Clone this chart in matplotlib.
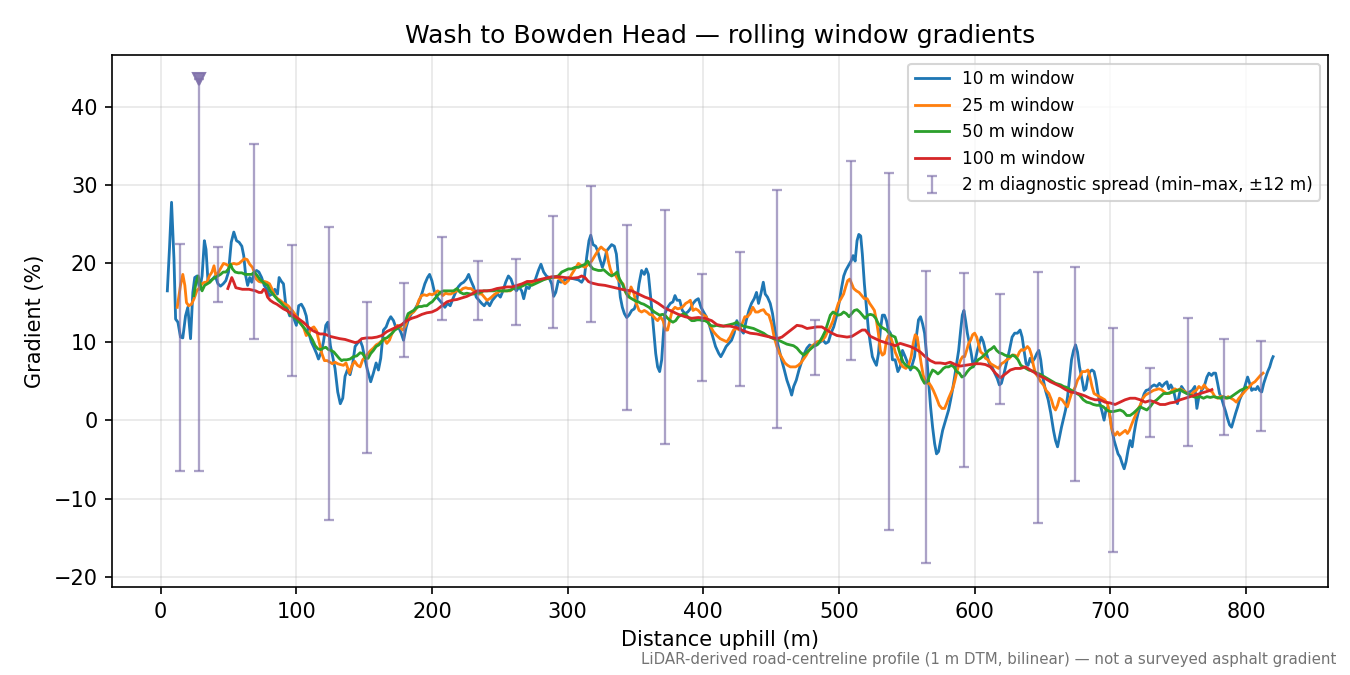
import numpy as np
import matplotlib
matplotlib.use("Agg")
import matplotlib.pyplot as plt

# rolling window gradients, (distance m, gradient %)
w10 = [(4.9,16.5),(6.5,22.0),(8.0,27.8),(9.8,20.5),(11.0,12.9),(12.7,12.5),(14.6,10.6),(16.3,10.5),(18.3,13.3),(20.0,14.4),
       (22.0,10.4),(23.7,16.3),(25.1,18.2),(26.8,18.4),(28.8,16.7),(30.5,18.4),(32.2,22.9),(33.4,21.8),(34.9,17.6),(36.6,17.8),
       (38.3,18.0),(40.2,18.4),(42.2,17.4),(44.1,17.1),(46.1,17.4),(48.0,17.8),(50.0,18.9),(52.0,22.7),(53.9,24.0),(55.9,22.9),
       (57.8,22.7),(59.8,22.2),(61.2,21.0),(62.7,18.4),(64.1,17.2),(65.6,18.2),(67.1,17.6),(69.0,18.9),(70.7,19.1),(72.4,18.9),
       (74.4,18.2),(76.3,17.2),(78.3,16.7),(80.2,15.9),(82.2,16.1),(84.1,16.7),(86.1,16.1),(87.3,18.2),(89.0,17.7),(90.5,17.4),
       (92.0,15.0),(93.4,14.2),(95.1,13.3),(96.8,14.0),(98.3,12.9),(100.0,12.1),(101.7,14.6),(103.7,14.8),(105.6,14.2),(107.3,13.3),
       (109.0,11.2),(111.0,10.0),(112.9,9.3),(114.9,8.5),(116.3,7.8),(118.3,8.7),(120.0,10.0),(121.7,12.1),(123.2,12.5),(125.1,9.5),
       (126.8,8.1),(128.5,6.6),(130.5,3.6),(132.4,2.1),(134.2,2.8),(135.9,5.6),(137.6,6.4),(139.6,5.8),(141.6,7.3),(143.3,9.4),
       (145.0,9.8),(147.0,10.2),(148.7,9.4),(150.7,7.7),(152.4,6.4),(154.8,4.9),(156.8,6.0),(158.8,7.3),(160.5,6.4),(162.2,7.9),
       (164.2,11.5),(166.2,11.9),(167.9,12.7),(169.6,13.2),(171.6,12.7),(173.6,11.7),(175.3,11.9),(177.3,11.1),(179.0,10.2),(181.0,11.9),
       (182.9,13.0),(184.9,13.6),(186.9,14.0),(188.8,14.6),(190.8,15.3),(192.8,16.3),(194.7,17.4),(196.7,18.2),(198.2,18.6),(199.9,17.8),
       (201.6,16.5),(203.6,15.7),(205.6,15.3),(207.5,14.9),(209.5,14.4),(211.5,14.9),(213.4,14.6),(215.4,15.5),(217.4,16.3),(219.3,17.0),
       (221.3,17.4),(223.3,17.6),(225.3,18.0),(227.0,18.6),(228.7,17.8),(230.7,17.0),(232.6,15.7),(234.6,15.3),(236.6,14.9),(238.5,14.6),
       (240.5,15.1),(242.5,14.6),(244.5,15.3),(246.4,15.7),(248.4,16.1),(250.4,15.7),(252.3,16.5),(254.3,17.6),(256.3,18.4),(258.2,18.0),
       (260.2,17.0),(262.2,16.5),(264.2,17.0),(266.1,16.5),(267.6,15.5),(269.6,17.0),(271.5,16.8),(273.5,17.6),(275.9,17.8),(278.4,19.1),
       (280.3,19.9),(282.3,18.9),(284.3,18.4),(286.2,18.2),(288.2,17.4),(289.7,15.8),(291.2,16.3),(293.1,17.8),(295.1,17.6),(297.1,17.8),
       (299.0,18.0),(301.0,18.2),(302.9,18.1),(305.4,18.0),(307.9,17.9),(310.3,17.6),(312.3,18.2),(314.0,20.8),(315.7,22.9),(317.0,23.6),
       (318.7,22.4),(320.6,22.2),(322.1,21.6),(323.8,20.5),(325.6,19.5),(327.0,20.3),(328.7,21.6),(330.5,22.0),(332.4,22.4),(334.4,22.2),
       (335.9,21.2),(337.3,18.6),(338.8,15.7),(340.3,14.4),(341.8,13.6),(343.5,13.1),(345.2,13.4),(347.2,14.0),(349.1,14.2),(350.9,15.1),
       (352.6,17.4),(354.5,19.1),(356.5,18.6),(358.0,19.3),(359.5,18.6),(360.7,16.5),(361.9,14.4),(363.4,11.5),(364.9,8.5),(366.3,6.8),
       (367.8,6.2),(369.3,7.7),(370.6,11.1),(371.7,13.6),(373.7,14.4),(375.7,14.9),(377.6,15.1),(379.1,15.9),(380.6,15.3),(382.6,15.3),
       (384.5,14.0),(386.5,13.6),(388.5,13.8),(390.4,14.2),(392.4,14.9),(394.4,15.3),(396.3,15.5),(398.3,14.4),(400.2,13.8),(402.2,13.2),
       (404.2,12.3),(407.0,10.6),(409.0,9.4),(411.4,8.5),(412.9,8.1),(414.8,8.7),(416.8,9.4),(418.8,9.8),(420.8,10.2),(422.7,11.1),
       (424.7,12.7),(426.2,11.9),(427.7,11.5),(429.6,11.1),(431.6,12.7),(433.6,14.0),(435.5,14.9),(437.5,15.5),(439.2,16.3),(440.7,14.9),
       (442.4,16.1),(444.2,17.6),(445.6,16.1),(447.3,15.7),(449.3,14.9),(451.0,13.6),(452.8,11.5),(454.3,10.2),(456.0,8.9),(457.7,7.7),
       (459.7,6.4),(461.6,5.1),(463.6,4.1),(465.1,3.2),(466.6,4.3),(468.5,5.1),(470.5,6.4),(472.5,7.5),(474.4,8.5),(476.4,9.2),
       (478.4,9.6),(480.3,9.4),(482.3,9.5),(484.3,9.7),(486.2,10.0),(488.2,10.2),(490.2,9.8),(492.2,10.0),(494.1,11.1),(496.1,11.9),
       (498.1,13.2),(500.0,14.9),(502.0,17.0),(503.5,18.4),(505.0,19.1),(506.9,19.7),(508.9,20.3),(510.4,21.0),(511.9,20.3),(513.3,22.9),
       (514.6,23.7),(516.0,23.5),(517.2,21.2),(518.7,17.4),(520.2,14.4),(521.7,11.5),(523.1,9.8),(524.6,8.1),(526.1,7.5),(527.6,7.0),
       (529.1,8.5),(530.5,11.5),(532.0,13.4),(533.5,13.4),(535.0,12.7),(536.4,11.5),(537.9,11.1),(539.4,7.7),(541.4,7.7),(543.4,6.2),
       (545.1,6.8),(546.8,8.9),(548.8,8.1),(550.8,7.2),(552.7,6.4),(554.2,7.2),(555.7,8.1),(557.2,10.9),(558.6,12.8),(560.1,13.2),
       (561.6,12.3),(563.1,11.1),(564.5,8.5),(566.0,5.1),(567.5,1.7),(569.0,-0.9),(570.5,-3.0),(571.9,-4.3),(573.4,-4.0),(574.9,-2.6),
       (576.4,-1.3),(577.9,-0.4),(579.3,0.4),(580.8,1.3),(582.3,2.6),(583.8,4.0),(585.2,5.5),(586.7,7.2),(588.2,8.9),(589.7,11.5),
       (590.9,13.4),(592.1,14.0),(593.4,12.6),(594.6,11.1),(596.1,9.8),(597.5,8.5),(599.0,6.8),(600.5,7.7),(602.0,8.9),(603.4,9.8),
       (604.9,10.6),(606.4,10.0),(607.9,8.9),(609.4,8.1),(610.8,7.2),(612.8,6.8),(614.8,6.0),(616.7,5.3),(618.2,4.5),(619.7,4.7),
       (621.7,6.0),(623.6,7.4),(625.6,8.9),(627.6,10.6),(629.5,11.1),(631.5,11.1),(633.5,11.5),(635.0,10.6),(636.4,8.9),(637.9,7.2),
       (639.4,7.0),(640.9,7.9),(642.3,7.4),(644.3,7.9),(645.8,8.5),(647.3,8.9),(648.7,7.7),(650.2,5.5),(652.2,3.8),(654.2,2.6),
       (656.1,0.9),(658.1,-1.3),(659.6,-2.6),(661.1,-3.4),(662.6,-2.1),(664.0,-0.9),(665.5,0.2),(667.0,1.3),(668.5,3.0),(670.0,5.5),
       (671.4,7.7),(672.9,8.9),(674.4,9.6),(675.8,8.7),(677.3,6.8),(678.8,5.5),(680.6,3.8),(682.0,4.0),(683.5,5.5),(685.0,6.2),
       (686.5,6.4),(688.0,6.2),(689.4,5.1),(690.9,3.4),(692.4,2.1),(693.9,1.1),(695.4,0.0),(696.8,1.3),(698.3,1.7),(699.8,0.4),
       (701.3,-1.3),(702.8,-2.6),(704.2,-3.4),(705.7,-4.3),(707.2,-4.7),(708.7,-5.5),(710.2,-6.2),(711.6,-5.3),(713.1,-3.8),(714.6,-2.6),
       (716.1,-3.4),(717.5,-1.7),(719.0,-0.2),(720.5,0.9),(722.0,1.7),(723.5,2.6),(725.0,3.4),(726.4,3.8),(728.4,3.9),(730.4,4.3),
       (732.3,4.5),(734.3,4.3),(736.2,4.7),(738.2,4.3),(740.2,4.7),(741.7,4.9),(743.1,4.0),(744.6,4.5),(746.6,3.8),(748.1,2.6),
       (749.5,2.1),(751.0,3.4),(752.5,4.3),(754.4,3.8),(756.4,3.4),(758.4,3.6),(760.4,3.8),(762.3,4.3),(763.8,1.5),(765.3,3.0),
       (767.3,3.8),(769.2,4.3),(771.2,5.5),(772.7,6.0),(774.6,5.7),(776.1,6.0),(777.6,6.0),(779.1,4.7),(780.5,3.4),(782.0,2.8),
       (783.5,1.9),(785.0,1.1),(786.4,0.2),(787.9,-0.6),(789.4,-0.9),(790.9,0.0),(792.4,0.9),(793.9,1.7),(795.3,2.6),(796.8,3.2),
       (798.3,3.8),(799.8,4.7),(801.2,5.5),(802.7,4.7),(804.2,3.8),(805.7,4.0),(807.2,3.9),(808.6,4.3),(810.1,3.8),(811.6,3.6),
       (813.1,4.7),(814.6,5.5),(816.0,6.2),(817.5,6.8),(819.0,7.7),(820.0,8.1)]

w25 = [(12.2,14.4),(14.6,17.2),(16.3,18.6),(17.8,17.2),(19.0,15.0),(20.7,14.6),(22.7,14.8),(24.6,15.5),(26.6,16.5),(28.5,16.9),
       (30.5,17.4),(32.4,17.6),(34.1,17.6),(35.9,18.4),(37.8,18.9),(39.3,19.7),(40.7,18.4),(42.7,18.9),(44.6,19.5),(46.3,20.0),
       (48.0,19.9),(50.0,19.7),(52.0,19.9),(53.9,20.0),(55.9,19.9),(57.8,20.0),(59.8,20.3),(61.7,20.6),(63.7,20.5),(65.6,19.9),
       (67.6,19.5),(69.0,18.9),(70.5,18.0),(72.4,17.7),(74.4,17.6),(76.3,17.7),(78.3,17.6),(80.2,17.4),(82.2,16.7),(84.1,15.9),
       (86.1,15.5),(88.0,15.3),(90.0,15.0),(92.0,14.8),(93.9,14.6),(95.9,14.2),(97.8,13.8),(99.8,13.3),(101.7,12.9),(103.7,12.3),
       (105.6,11.7),(107.3,10.8),(109.0,11.0),(111.0,11.7),(112.9,11.9),(114.9,11.4),(116.8,10.0),(118.8,8.5),(120.7,7.6),(122.7,7.6),
       (124.6,7.4),(126.6,7.2),(128.5,7.4),(130.5,7.2),(132.4,7.1),(134.7,7.0),(136.6,7.3),(139.1,6.0),(141.1,7.0),(143.1,7.5),
       (145.0,7.0),(147.0,6.8),(148.9,7.7),(150.9,8.1),(152.9,8.5),(154.8,8.9),(156.8,9.2),(158.8,9.6),(160.8,9.8),(162.7,10.1),
       (164.7,10.4),(166.7,9.8),(168.6,10.2),(170.6,11.1),(172.6,11.7),(174.5,12.1),(176.5,11.8),(178.5,11.5),(180.5,12.1),(182.4,13.2),
       (184.4,13.6),(186.4,13.8),(188.3,14.2),(190.3,15.3),(192.3,15.9),(194.2,16.0),(196.2,15.9),(198.2,16.1),(200.1,16.0),(202.1,16.2),
       (204.1,16.5),(206.0,16.3),(208.0,15.9),(210.0,16.2),(212.0,16.1),(213.9,16.1),(215.9,16.3),(218.4,16.5),(220.8,16.5),(222.8,16.8),
       (224.8,16.9),(226.7,16.8),(228.7,16.8),(230.7,16.5),(232.6,16.3),(234.6,16.1),(236.6,16.1),(238.5,15.7),(240.5,15.3),(242.5,15.5),
       (244.5,15.8),(246.4,16.1),(248.4,16.3),(250.4,16.5),(252.8,16.5),(255.3,16.5),(257.8,16.5),(260.2,16.9),(262.7,17.0),(265.1,17.2),
       (267.6,17.4),(270.1,17.5),(273.5,17.5),(278.4,17.8),(283.3,18.0),(288.2,18.2),(293.1,18.2),(295.6,17.8),(298.0,17.4),(300.5,17.8),
       (302.9,18.6),(305.4,19.3),(307.9,20.0),(310.3,19.7),(312.8,19.5),(315.2,19.9),(317.7,20.3),(320.1,21.0),(322.6,21.7),(324.6,22.1),
       (326.5,21.8),(328.5,21.6),(330.0,20.3),(331.4,19.3),(332.9,18.6),(334.9,18.6),(336.9,18.0),(338.8,17.6),(340.8,17.4),(342.8,16.3),
       (344.7,15.7),(346.7,17.0),(348.6,16.3),(350.6,14.9),(352.6,14.0),(354.5,13.8),(356.5,14.0),(358.5,13.8),(360.4,13.5),(362.4,13.4),
       (364.4,13.0),(366.3,12.7),(368.3,13.2),(370.3,12.7),(372.2,11.5),(373.7,11.5),(375.2,12.7),(377.1,14.0),(379.1,14.4),(381.1,14.2),
       (383.1,14.3),(385.0,14.5),(387.0,14.9),(389.0,15.1),(390.4,15.3),(392.4,14.0),(394.4,14.2),(396.3,14.0),(398.3,13.6),(400.2,13.4),
       (402.2,13.2),(404.2,12.3),(407.4,11.3),(409.9,10.8),(412.4,10.4),(414.8,10.2),(417.3,10.0),(419.7,10.6),(422.2,11.5),(424.7,11.7),
       (426.7,11.5),(428.6,12.3),(430.6,13.2),(432.5,13.2),(434.5,13.6),(436.5,14.4),(438.5,13.8),(440.4,13.8),(442.4,14.0),(444.4,14.1),
       (446.3,13.6),(448.3,13.4),(450.3,12.3),(452.2,10.6),(454.2,9.4),(456.2,8.5),(458.1,7.9),(460.1,7.3),(462.1,7.0),(464.1,6.8),
       (466.0,6.8),(468.0,6.8),(470.0,7.0),(471.9,7.3),(473.9,7.8),(475.9,8.3),(477.8,8.9),(479.8,9.4),(481.8,9.7),(483.8,10.0),
       (485.7,10.1),(487.7,10.2),(489.7,10.6),(491.6,11.3),(493.6,11.9),(495.6,12.7),(497.5,13.8),(499.5,14.9),(501.5,15.5),(503.4,16.1),
       (504.9,17.0),(506.4,17.8),(507.9,18.0),(509.4,17.4),(510.8,16.8),(512.8,16.5),(514.8,16.3),(516.7,15.9),(518.7,15.5),(520.7,15.5),
       (522.6,14.9),(524.6,14.4),(526.1,14.0),(527.6,12.7),(529.0,11.1),(530.5,8.9),(532.0,8.3),(533.5,8.5),(535.0,10.2),(536.4,10.8),
       (538.4,10.4),(540.4,9.4),(541.4,8.7),(543.4,7.9),(545.3,7.2),(547.3,6.8),(549.3,6.6),(551.3,7.0),(553.2,8.1),(554.7,9.8),
       (556.2,10.9),(557.7,10.6),(559.1,8.9),(560.6,7.2),(562.1,5.7),(563.6,5.1),(565.0,4.7),(566.5,4.7),(568.0,4.3),(569.5,3.8),
       (571.0,3.2),(572.4,2.6),(573.9,1.9),(575.9,1.5),(577.8,1.5),(579.3,2.1),(580.8,2.8),(582.3,3.4),(583.8,4.0),(585.2,4.9),
       (586.7,6.0),(588.2,7.0),(589.7,7.7),(591.1,8.1),(592.6,8.1),(594.1,8.9),(595.6,9.8),(597.0,10.2),(598.5,10.9),(600.0,11.1),
       (601.5,10.6),(603.0,9.6),(604.4,8.7),(605.9,8.5),(607.9,7.9),(609.8,7.7),(611.8,7.2),(613.8,7.0),(615.8,6.8),(617.7,6.6),
       (619.7,7.2),(621.7,7.4),(623.6,7.7),(625.6,7.9),(627.6,8.3),(629.5,8.3),(631.5,8.1),(633.0,8.7),(634.5,9.0),(636.0,8.9),
       (637.4,9.1),(638.9,9.4),(640.4,9.1),(641.9,8.3),(643.3,7.0),(644.8,6.0),(646.8,5.5),(648.7,4.9),(650.7,4.5),(652.7,3.8),
       (654.7,3.4),(656.6,2.6),(658.1,1.7),(659.6,1.3),(661.1,1.9),(662.5,2.8),(664.5,2.6),(666.5,2.1),(668.4,1.7),(669.9,2.6),
       (671.4,3.4),(672.9,3.8),(674.3,4.3),(675.8,5.1),(677.3,5.5),(679.3,6.2),(681.6,6.2),(683.5,6.4),(685.0,5.5),(686.5,4.3),
       (688.0,3.4),(690.0,3.2),(692.0,3.0),(693.9,2.8),(695.9,2.6),(697.9,2.1),(699.4,0.9),(700.8,-0.9),(702.3,-1.7),(703.7,-1.9),
       (705.2,-1.5),(706.7,-1.9),(708.2,-1.7),(709.6,-1.5),(711.1,-1.3),(712.6,-1.7),(714.1,-1.3),(715.6,-0.6),(717.0,0.0),(718.5,0.6),
       (720.0,1.3),(722.0,1.9),(724.0,2.8),(725.9,3.2),(727.9,3.4),(729.8,3.6),(731.8,3.8),(733.8,3.9),(735.7,4.0),(737.7,3.9),
       (739.7,3.6),(741.7,3.4),(743.6,3.4),(745.6,3.8),(747.6,4.0),(749.5,3.8),(751.5,4.0),(753.5,3.8),(755.4,3.6),(757.4,3.4),
       (759.4,3.2),(761.3,3.6),(763.3,3.8),(765.3,4.3),(767.3,4.0),(769.2,4.5),(771.2,4.0),(773.2,3.8),(775.1,3.6),(777.1,3.0),
       (779.1,2.8),(781.0,3.0),(783.0,3.0),(785.0,2.8),(786.9,3.0),(788.9,2.8),(790.9,2.6),(792.9,2.3),(794.8,2.8),(796.8,3.2),
       (798.8,3.6),(800.7,4.0),(802.7,4.3),(804.7,4.7),(806.6,4.9),(808.6,5.3),(810.6,5.7),(812.6,6.0)]

w50 = [(24.4,15.9),(26.1,17.6),(27.6,18.4),(29.0,17.4),(30.5,16.5),(32.4,17.2),(34.4,17.4),(36.3,17.6),(38.3,18.0),(40.2,18.2),
       (42.2,18.4),(44.1,18.6),(46.1,18.9),(48.0,18.9),(50.0,19.3),(51.5,19.9),(52.9,19.3),(54.9,18.9),(57.3,18.8),(59.8,18.8),
       (62.2,18.6),(64.6,18.6),(67.1,18.6),(69.0,18.9),(71.0,18.5),(72.9,18.0),(74.9,17.7),(76.8,17.4),(78.8,17.2),(80.7,16.5),
       (82.7,16.1),(84.6,15.7),(86.6,15.3),(88.5,15.0),(90.5,14.6),(92.4,14.2),(94.4,13.8),(96.3,13.3),(98.3,13.1),(100.2,12.9),
       (102.2,12.5),(104.1,12.1),(106.1,11.7),(108.0,11.2),(110.0,10.8),(112.0,10.2),(113.9,9.5),(115.9,9.1),(117.8,9.0),(119.8,9.2),
       (121.7,9.3),(123.7,9.0),(125.6,8.9),(127.6,8.7),(129.5,8.3),(131.5,7.9),(133.4,7.6),(134.7,7.7),(137.1,7.7),(139.6,7.8),
       (142.0,8.1),(144.5,8.2),(147.0,8.6),(148.9,8.5),(150.9,7.9),(152.9,7.9),(154.8,8.5),(156.8,8.9),(158.8,9.4),(160.8,9.6),
       (162.7,10.0),(164.7,10.4),(166.7,10.5),(168.6,10.8),(170.6,11.1),(172.6,11.5),(174.5,11.7),(176.5,12.0),(178.5,12.2),(180.5,12.7),
       (182.4,13.6),(184.4,13.8),(186.4,14.0),(188.3,14.3),(190.3,14.5),(192.3,14.5),(194.2,14.6),(196.2,14.6),(198.2,14.9),(200.1,15.1),
       (202.1,15.5),(204.1,15.9),(206.0,16.3),(208.5,16.5),(211.0,16.5),(213.4,16.5),(215.9,16.5),(218.4,16.8),(220.8,16.3),(223.3,16.1),
       (225.7,16.2),(228.2,16.1),(230.7,16.1),(233.1,16.3),(235.6,16.3),(238.1,16.5),(240.5,16.5),(243.0,16.5),(245.4,16.5),(247.9,16.6),
       (250.4,16.5),(252.8,16.5),(255.3,16.5),(257.8,16.6),(260.2,16.8),(262.7,16.9),(265.1,17.0),(267.6,17.2),(270.1,17.4),(273.5,17.2),
       (278.4,17.6),(283.3,18.0),(288.2,18.2),(293.1,18.4),(295.6,18.9),(298.0,19.1),(300.5,19.3),(302.9,19.3),(305.4,19.5),(307.9,19.5),
       (310.3,19.7),(312.8,19.9),(314.7,20.3),(316.7,19.7),(318.7,19.3),(320.6,19.2),(322.6,19.1),(324.6,19.1),(326.5,19.2),(328.5,18.9),
       (330.5,18.6),(332.4,18.4),(334.4,18.6),(336.4,18.9),(338.3,18.0),(340.3,17.4),(342.3,16.5),(344.2,15.9),(346.2,15.6),(348.2,15.4),
       (350.1,15.2),(352.1,15.1),(354.1,14.9),(356.0,14.8),(358.0,14.6),(360.0,14.4),(361.9,14.1),(363.9,13.8),(365.8,13.6),(367.8,13.4),
       (369.8,13.5),(371.7,13.4),(373.7,13.0),(375.7,12.7),(377.6,12.5),(379.6,12.7),(381.6,13.2),(383.5,13.4),(385.5,13.6),(387.5,13.4),
       (389.4,13.0),(391.4,12.7),(393.3,12.7),(395.3,12.8),(397.3,12.8),(399.3,12.7),(401.2,12.7),(403.2,12.5),(405.2,12.1),(407.4,12.0),
       (409.9,12.1),(412.4,12.0),(414.8,12.0),(417.3,12.1),(419.7,12.2),(422.2,12.3),(424.7,12.5),(427.1,12.2),(429.6,12.0),(432.1,11.9),
       (434.5,11.8),(437.0,11.7),(439.4,11.5),(441.9,11.3),(444.4,11.1),(446.8,10.8),(449.3,10.6),(451.7,10.4),(454.2,10.3),(456.7,10.1),
       (459.1,9.9),(461.6,9.7),(464.1,9.6),(466.5,9.5),(469.0,9.2),(471.4,8.7),(473.9,8.3),(475.9,8.6),(477.8,8.9),(479.8,9.2),
       (481.8,9.5),(483.8,9.6),(485.7,10.0),(487.7,10.6),(489.7,11.3),(491.6,12.3),(493.6,13.4),(495.6,13.8),(497.5,13.6),(499.5,13.4),
       (501.5,13.5),(503.4,13.8),(505.4,13.6),(507.4,13.2),(509.4,13.6),(511.3,14.0),(513.3,14.1),(515.3,13.8),(517.2,13.4),(519.2,13.0),
       (521.2,13.4),(523.1,13.5),(525.1,13.4),(527.1,13.0),(529.0,12.3),(531.0,11.9),(533.0,11.7),(535.0,11.5),(536.9,11.1),(538.9,10.8),
       (541.4,10.6),(543.4,9.4),(545.3,8.3),(547.3,7.4),(549.3,7.0),(551.3,6.8),(553.2,6.6),(555.2,6.8),(557.2,6.6),(559.1,6.2),
       (561.1,5.3),(563.1,4.7),(565.0,4.9),(567.0,5.7),(569.0,6.4),(571.0,6.2),(572.9,5.9),(574.9,6.2),(576.9,6.6),(578.8,6.8),
       (580.8,6.8),(582.8,7.0),(584.7,6.8),(586.7,6.2),(588.7,6.0),(590.6,5.5),(592.6,5.7),(594.6,6.2),(596.6,6.6),(598.5,6.8),
       (600.5,7.2),(602.5,7.7),(604.4,7.9),(606.4,8.2),(608.4,8.5),(610.3,8.9),(612.3,9.1),(614.3,9.4),(616.2,8.9),(618.2,8.6),
       (620.2,8.5),(622.2,8.3),(624.1,8.2),(626.1,8.1),(628.1,8.3),(630.0,8.1),(632.0,7.7),(634.0,7.0),(635.9,6.8),(637.9,6.6),
       (639.9,6.4),(641.9,6.3),(643.8,6.2),(645.8,6.0),(647.8,5.9),(649.8,5.7),(651.7,5.5),(653.7,5.3),(655.7,5.1),(657.6,4.9),
       (659.6,4.7),(661.6,4.6),(663.5,4.5),(665.5,4.3),(667.5,4.2),(669.4,4.0),(671.4,3.8),(673.4,3.6),(675.3,3.4),(677.3,3.2),
       (680.1,2.6),(682.6,2.3),(685.0,2.2),(687.5,2.0),(690.0,1.9),(692.4,1.9),(694.9,1.7),(697.3,1.3),(699.8,1.1),(702.3,1.1),
       (704.7,1.2),(707.2,1.3),(709.6,1.1),(712.1,0.6),(714.6,0.6),(717.0,0.9),(719.5,1.3),(722.0,1.7),(724.4,1.5),(726.9,1.3),
       (729.3,1.7),(731.8,2.3),(734.3,2.6),(736.7,3.0),(739.2,3.4),(741.7,3.4),(744.1,3.5),(746.6,3.6),(749.1,3.8),(751.5,3.9),
       (754.0,3.6),(756.4,3.4),(758.9,3.2),(761.3,3.0),(763.8,2.9),(766.3,3.0),(768.7,2.8),(771.2,3.0),(773.7,2.9),(776.1,3.0),
       (778.6,2.9),(781.0,2.8),(783.5,3.0),(786.0,2.8),(788.4,2.9),(790.9,3.2),(793.4,3.5),(795.8,3.8),(798.3,4.0),(800.2,4.2)]

w100 = [(49.5,16.8),(51.2,17.6),(52.4,18.2),(53.9,17.6),(55.4,16.9),(57.8,16.8),(60.2,16.7),(62.7,16.7),(65.1,16.7),(67.6,16.6),
        (70.0,16.5),(72.4,16.3),(74.4,16.3),(75.9,16.7),(77.3,16.5),(78.8,15.7),(80.7,15.3),(83.2,15.0),(85.6,14.8),(88.0,14.5),
        (90.5,14.2),(92.9,14.0),(95.4,13.7),(97.8,13.4),(100.2,13.1),(102.7,12.8),(105.1,12.5),(107.6,12.1),(110.0,11.7),(112.4,11.4),
        (114.9,11.2),(117.3,11.0),(119.8,11.0),(122.2,10.9),(124.6,10.7),(127.1,10.6),(129.5,10.5),(132.0,10.4),(135.9,10.3),(139.6,10.1),
        (143.3,9.9),(145.7,10.0),(148.2,10.4),(151.9,10.5),(155.6,10.5),(159.3,10.6),(163.0,10.8),(166.7,11.3),(170.4,11.6),(174.1,11.9),
        (177.7,12.2),(181.4,12.7),(185.1,13.0),(188.8,13.2),(192.5,13.5),(196.2,13.7),(199.9,13.8),(203.6,14.1),(207.3,14.6),(211.0,15.1),
        (214.7,15.3),(218.4,15.4),(222.1,15.6),(225.8,15.8),(229.4,16.1),(233.1,16.5),(236.8,16.5),(240.5,16.5),(244.2,16.6),(247.9,16.8),
        (251.6,16.9),(255.3,17.0),(259.0,17.0),(262.7,17.2),(266.4,17.4),(270.1,17.7),(273.5,17.7),(278.4,17.9),(283.3,18.1),(288.2,18.3),
        (293.1,18.3),(298.0,18.2),(302.9,18.1),(307.9,18.2),(310.3,18.4),(312.8,18.2),(315.2,17.7),(317.7,17.5),(322.6,17.3),(327.5,17.2),
        (332.4,17.0),(337.3,16.8),(342.3,16.6),(347.2,16.5),(352.1,16.1),(357.0,15.7),(361.9,15.4),(366.8,14.9),(371.7,14.3),(376.7,13.9),
        (381.6,13.5),(386.5,13.2),(391.4,13.0),(396.3,13.1),(401.2,13.0),(406.1,12.7),(409.9,12.2),(414.8,12.0),(419.7,12.0),(424.7,11.8),
        (429.6,11.4),(434.5,11.1),(439.4,11.0),(444.4,10.8),(449.3,10.6),(454.2,10.4),(457.9,10.6),(461.6,11.1),(465.3,11.6),(469.0,12.1),
        (472.7,12.0),(476.4,11.7),(480.1,11.8),(483.8,11.9),(487.4,11.9),(491.1,11.5),(494.8,11.1),(498.5,10.8),(502.2,10.7),(505.9,10.6),
        (509.6,10.7),(513.3,11.1),(517.0,11.5),(519.4,11.5),(523.1,10.7),(526.8,10.4),(530.5,10.1),(534.2,9.9),(537.9,9.7),(541.6,9.5),
        (545.1,9.8),(548.8,9.6),(552.5,9.4),(556.2,9.1),(559.9,8.7),(563.6,8.1),(567.3,7.6),(571.0,7.3),(574.7,7.3),(578.3,7.2),
        (582.0,7.4),(585.7,7.1),(589.4,6.9),(593.1,7.0),(596.8,7.1),(600.5,7.2),(604.2,7.2),(607.9,7.1),(611.6,6.8),(615.3,6.0),
        (619.0,5.4),(622.6,5.9),(626.3,6.4),(630.0,6.6),(633.7,6.6),(637.4,6.8),(641.1,6.4),(644.8,6.0),(648.5,5.6),(652.2,5.3),
        (655.9,4.9),(659.6,4.6),(663.3,4.3),(667.0,3.9),(670.7,3.6),(674.3,3.5),(678.0,3.3),(681.3,3.1),(685.0,2.8),(688.7,2.6),
        (692.4,2.6),(696.1,2.3),(699.8,2.2),(703.5,2.0),(707.2,2.3),(710.9,2.6),(714.6,2.8),(718.3,2.8),(722.0,2.6),(725.7,2.3),
        (729.3,2.5),(733.0,2.3),(736.7,2.0),(740.4,2.0),(744.1,2.2),(747.8,2.3),(751.5,2.6),(755.2,2.8),(758.9,3.0),(762.6,3.2),
        (766.3,3.4),(770.0,3.6),(773.7,3.8),(774.9,3.9)]

# 2 m diagnostic spread (min and max within +-12 m)
spread_x = [14, 28, 42, 69, 97, 124, 152, 179, 207, 234, 262, 289, 317, 344, 372, 399,
            427, 454, 482, 509, 537, 564, 592, 619, 647, 674, 702, 729, 757, 784, 811]
spread_lo = [-6.5, -6.5, 15.1, 10.4, 5.6, -12.8, -4.2, 8.1, 12.8, 12.8, 12.1, 11.7, 12.5, 1.3, -3.0, 5.0,
             4.4, -1.0, 5.8, 7.7, -14.0, -18.2, -6.0, 2.0, -13.1, -7.7, -16.8, -2.2, -3.3, -1.9, -1.4]
spread_hi = [22.5, 43.5, 22.1, 35.2, 22.4, 24.6, 15.1, 17.5, 23.4, 20.3, 20.6, 26.0, 29.9, 24.9, 26.8, 18.6,
             21.5, 29.4, 12.8, 33.1, 31.6, 19.0, 18.8, 16.1, 18.9, 19.5, 11.7, 6.7, 13.1, 10.3, 10.1]
peak_x, peak_y = 28, 43.5

series = [(w10, "10 m window", "tab:blue"),
          (w25, "25 m window", "tab:orange"),
          (w50, "50 m window", "tab:green"),
          (w100, "100 m window", "tab:red")]

fig = plt.figure(figsize=(9, 4.5), dpi=150)
ax = fig.add_axes([0.083, 0.1304, 0.901, 0.788])

handles = []
for pts, lab, col in series:
    d, g = np.array(pts).T
    ln, = ax.plot(d, g, color=col, lw=1.35, label=lab)
    handles.append(ln)

sx = np.array(spread_x)
lo = np.array(spread_lo)
hi = np.array(spread_hi)
mid = (lo + hi) / 2
eb = ax.errorbar(sx, mid, yerr=[mid - lo, hi - mid], fmt="none", ecolor="#7f70aa",
                 alpha=0.65, elinewidth=1.1, capsize=2.5, capthick=1.1,
                 label="2 m diagnostic spread (min–max, ±12 m)")
handles.append(eb)
ax.plot([peak_x], [peak_y], marker="v", color="#7f70aa", ms=6, ls="none", alpha=0.9)

ax.grid(True, alpha=0.3)
ax.set_title("Wash to Bowden Head — rolling window gradients", fontsize=12)
ax.set_xlabel("Distance uphill (m)")
ax.set_ylabel("Gradient (%)")
ax.legend(handles=handles, loc="upper right", fontsize=8.1)

fig.text(0.99, 0.012, "LiDAR-derived road-centreline profile (1 m DTM, bilinear) — not a surveyed asphalt gradient",
         ha="right", va="bottom", fontsize=7.2, color="0.45")

fig.savefig("out.png", dpi=150)
